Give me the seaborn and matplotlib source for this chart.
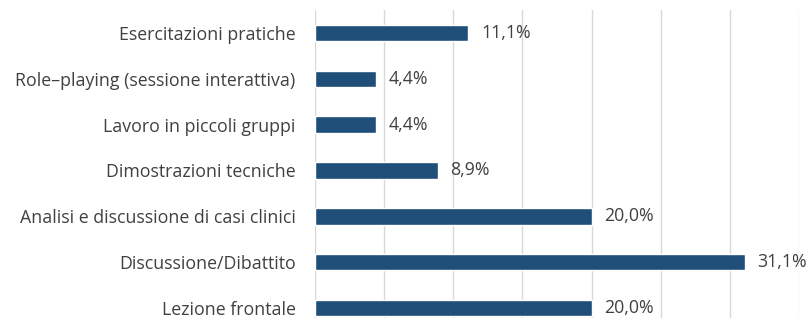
import matplotlib
matplotlib.use("Agg")
import matplotlib.pyplot as plt
import seaborn as sns
import pandas as pd

categories = [
    "Esercitazioni pratiche",
    "Role\u2013playing (sessione interattiva)",
    "Lavoro in piccoli gruppi",
    "Dimostrazioni tecniche",
    "Analisi e discussione di casi clinici",
    "Discussione/Dibattito",
    "Lezione frontale",
]
values = [11.1, 4.4, 4.4, 8.9, 20.0, 31.1, 20.0]
xticks = [0, 5, 10, 15, 20, 25, 30, 35]

sns.set_theme(style="white")
plt.rcParams["font.family"] = ["Open Sans", "DejaVu Sans"]

df = pd.DataFrame({"cat": categories, "val": values})

fig = plt.figure(figsize=(8.1, 3.18), dpi=100)
ax = fig.add_axes([315 / 810, (318 - 331) / 318, (799 - 315) / 810, 321 / 318])

sns.barplot(data=df, x="val", y="cat", orient="h", color="#1F4E79",
            width=0.36, saturation=1, ax=ax)

ax.set_xlim(0, 35)
ax.set_ylim(len(categories) - 0.5, -0.5)
ax.set_xticks(xticks)
ax.xaxis.grid(True, color="#D9D9D9", linewidth=1)
ax.set_axisbelow(True)
ax.tick_params(axis="x", bottom=False, labelbottom=False)
ax.tick_params(axis="y", left=False, pad=8, labelsize=12.8, labelcolor="#404040")
for s in ax.spines.values():
    s.set_visible(False)
ax.set_xlabel("")
ax.set_ylabel("")

labels = [f"{v:.1f}".replace(".", ",") + "%" for v in values]
ax.bar_label(ax.containers[0], labels=labels, padding=9, fontsize=12.8,
             color="#404040")

fig.savefig("out.png", dpi=100)
